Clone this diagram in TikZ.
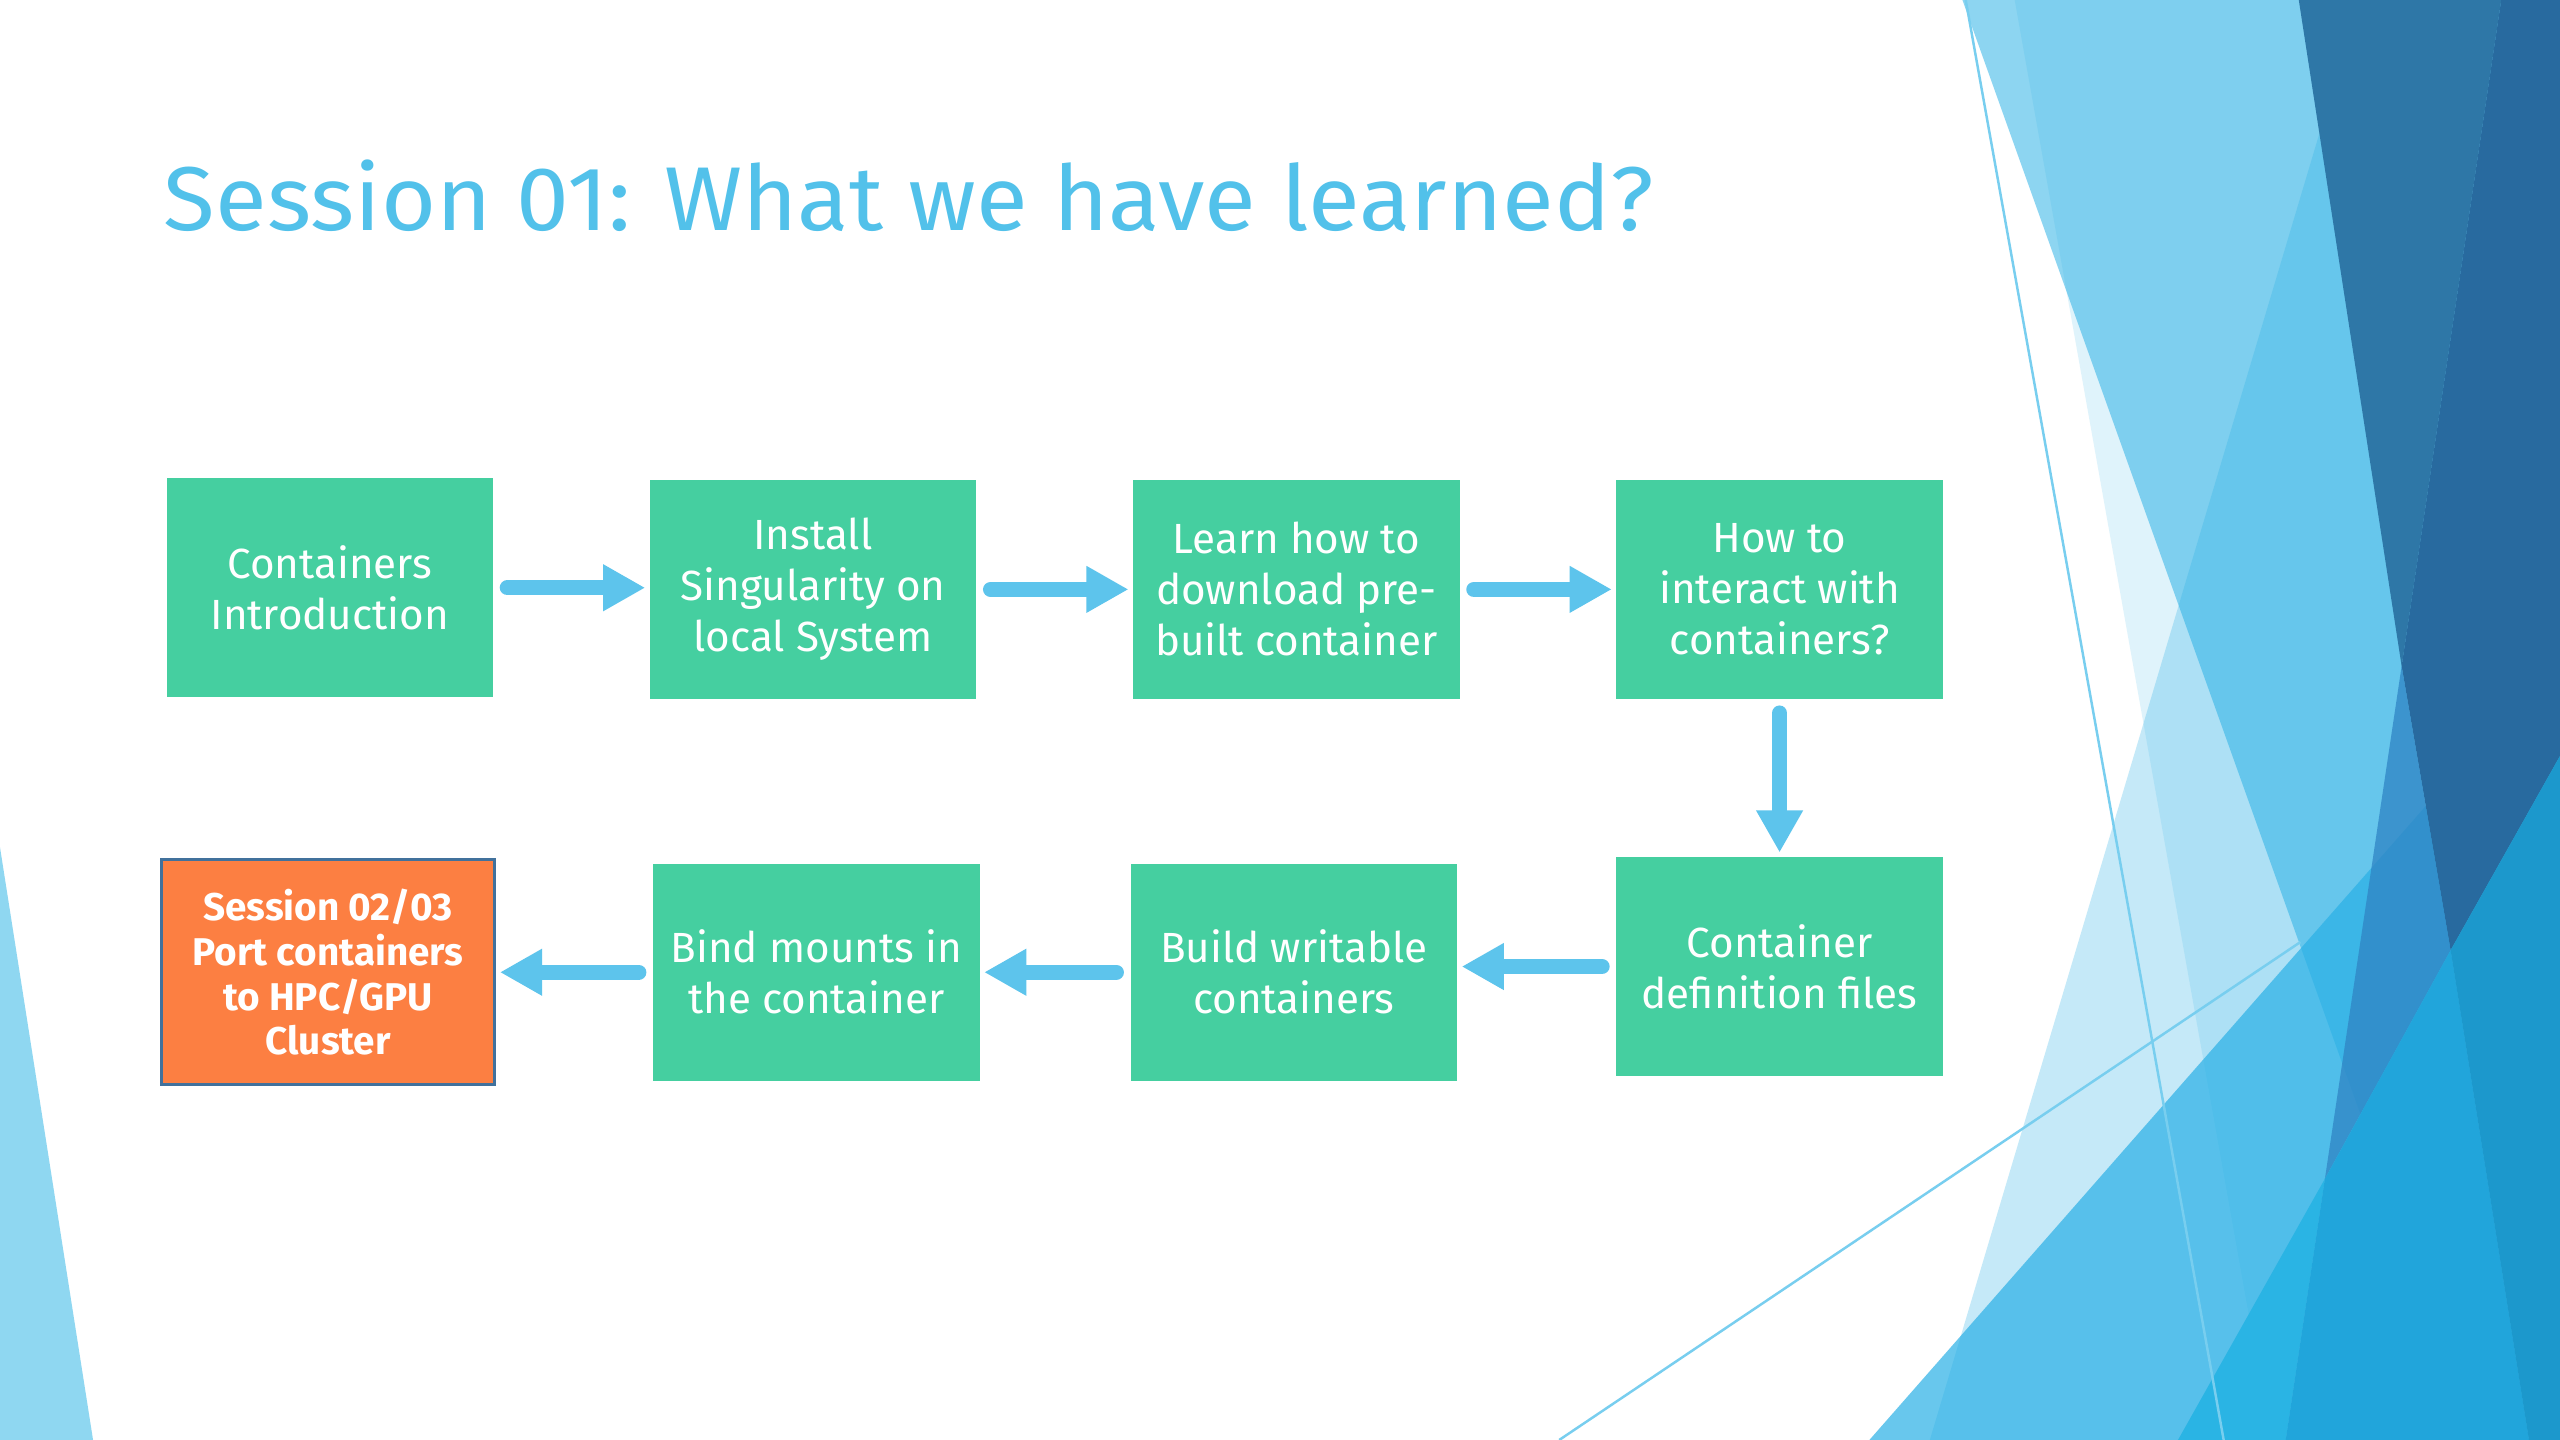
\documentclass[tikz,border=0pt]{standalone}
\usepackage{fontspec}
\usepackage{graphicx}
\setmainfont{Fira Sans}
\usetikzlibrary{arrows.meta}
\definecolor{boxgreen}{HTML}{45CFA0}
\definecolor{boxorange}{HTML}{FC7F42}
\definecolor{borderblue}{HTML}{41719C}
\definecolor{arrowblue}{HTML}{5DC4EC}
\definecolor{titleblue}{HTML}{52C1EA}
\definecolor{facet}{HTML}{29B0E6}
\definecolor{darkA}{HTML}{2E77A7}
\definecolor{darkB}{HTML}{286A9F}
\definecolor{darkC}{HTML}{2F84C4}
\definecolor{brightA}{HTML}{2AB4E4}
\definecolor{brightB}{HTML}{21A5DB}
\definecolor{brightC}{HTML}{1C98CC}
\definecolor{sliver}{HTML}{8FD7F1}
\definecolor{thinline}{HTML}{78CEEF}
\tikzset{
  stepbox/.style={fill=boxgreen, text=white, minimum width=32.65mm, minimum height=21.88mm,
    inner sep=0pt, align=center, font=\fontsize{12}{14.5}\selectfont},
  endbox/.style={fill=boxorange, draw=borderblue, line width=0.8pt, text=white,
    minimum width=33.3mm, minimum height=22.5mm, inner sep=0pt, align=center,
    font=\bfseries\fontsize{11}{12.7}\selectfont},
  flow/.style={draw=arrowblue, line width=4.4pt, line cap=round,
    -{Triangle[length=12pt,width=12.5pt]}, shorten <=3.9pt, shorten >=1.1pt},
  facetline/.style={draw=thinline, line width=0.7pt}
}
\begin{document}
\begin{tikzpicture}[x=0.0163265cm,y=-0.0163265cm]
\useasboundingbox (0,0) rectangle (1568,882);
\fill[white] (0,0) rectangle (1568,882);
% left sliver
\fill[sliver] (0,519) -- (57,882) -- (0,882) -- cycle;
% light translucent facets
\fill[facet, fill opacity=0.53] (1202,0) -- (1568,0) -- (1568,882) -- (1517,882) -- cycle;
\fill[facet, fill opacity=0.27] (1445,0) -- (1568,0) -- (1568,882) -- (1182,882) -- cycle;
\fill[facet, fill opacity=0.15] (1234,0) -- (1568,0) -- (1568,882) -- (1391,882) -- cycle;
\fill[facet, fill opacity=0.70] (1145,882) -- (1568,400) -- (1568,882) -- cycle;
% dark facets
\fill[darkA] (1408,0) -- (1532,0) -- (1471,408) -- cycle;
\fill[darkB] (1532,0) -- (1568,0) -- (1568,463) -- (1501,582) -- (1471,408) -- cycle;
\fill[darkC, fill opacity=0.75] (1471,408) -- (1501,582) -- (1424,722) -- cycle;
% bright facets
\fill[brightA] (1424,722) -- (1400,882) -- (1334,882) -- cycle;
\fill[brightB] (1424,722) -- (1501,582) -- (1549,882) -- (1400,882) -- cycle;
\fill[brightC] (1501,582) -- (1568,463) -- (1568,882) -- (1549,882) -- cycle;
% thin lines
\draw[facetline] (1204,0) -- (1362,882);
\draw[facetline] (955,882) -- (1409,577);

% title
\node[anchor=base west, inner sep=0pt, text=titleblue] (title) at (100,140.9)
  {\resizebox{424pt}{20.1pt}{Session 01: What we have learned?}};

% boxes
\node[stepbox] (b1) at (202,360) {Containers\\Introduction};
\node[stepbox] (b2) at (498,361) {Install\\Singularity on\\local System};
\node[stepbox] (b3) at (794,361) {Learn how to\\download pre-\\built container};
\node[stepbox] (b4) at (1090,361) {How to\\interact with\\containers?};
\node[stepbox] (b5) at (1090,592) {Container\\definition files};
\node[stepbox, minimum height=21.7mm] (b6) at (792.5,595.5) {Build writable\\containers};
\node[stepbox, minimum height=21.7mm] (b7) at (500,595.5) {Bind mounts in\\the container};
\node[endbox] (b8) at (201,595.5) {Session 02/03\\Port containers\\to HPC/GPU\\Cluster};

% connectors
\draw[flow] (b1) -- (b1 -| b2.west);
\draw[flow] (b2) -- (b3);
\draw[flow] (b3) -- (b4);
\draw[flow] (b4) -- (b5);
\draw[flow] (b5) -- (b5 -| b6.east);
\draw[flow] (b6) -- (b7);
\draw[flow] (b7) -- (b8);
\end{tikzpicture}
\end{document}
